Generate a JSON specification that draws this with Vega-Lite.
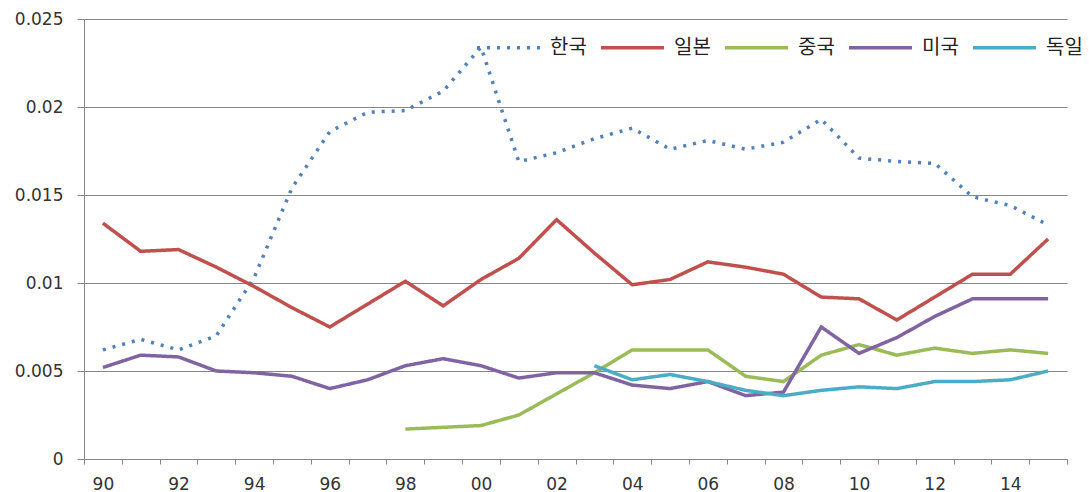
{
  "$schema": "https://vega.github.io/schema/vega-lite/v6.json",
  "width": 983,
  "height": 440,
  "autosize": {"type": "none"},
  "padding": {"left": 84, "top": 19, "right": 22, "bottom": 33},
  "background": "white",
  "config": {"view": {"stroke": null}, "font": "DejaVu Sans"},
  "data": {
    "values": [
      {"year": 1990, "country": "한국", "value": 0.0062},
      {"year": 1991, "country": "한국", "value": 0.0068},
      {"year": 1992, "country": "한국", "value": 0.0062},
      {"year": 1993, "country": "한국", "value": 0.0070},
      {"year": 1994, "country": "한국", "value": 0.0103},
      {"year": 1995, "country": "한국", "value": 0.0154},
      {"year": 1996, "country": "한국", "value": 0.0186},
      {"year": 1997, "country": "한국", "value": 0.0197},
      {"year": 1998, "country": "한국", "value": 0.0198},
      {"year": 1999, "country": "한국", "value": 0.0209},
      {"year": 2000, "country": "한국", "value": 0.0234},
      {"year": 2001, "country": "한국", "value": 0.0169},
      {"year": 2002, "country": "한국", "value": 0.0174},
      {"year": 2003, "country": "한국", "value": 0.0182},
      {"year": 2004, "country": "한국", "value": 0.0188},
      {"year": 2005, "country": "한국", "value": 0.0176},
      {"year": 2006, "country": "한국", "value": 0.0181},
      {"year": 2007, "country": "한국", "value": 0.0176},
      {"year": 2008, "country": "한국", "value": 0.0180},
      {"year": 2009, "country": "한국", "value": 0.0193},
      {"year": 2010, "country": "한국", "value": 0.0171},
      {"year": 2011, "country": "한국", "value": 0.0169},
      {"year": 2012, "country": "한국", "value": 0.0168},
      {"year": 2013, "country": "한국", "value": 0.0149},
      {"year": 2014, "country": "한국", "value": 0.0144},
      {"year": 2015, "country": "한국", "value": 0.0133},

      {"year": 1990, "country": "일본", "value": 0.0134},
      {"year": 1991, "country": "일본", "value": 0.0118},
      {"year": 1992, "country": "일본", "value": 0.0119},
      {"year": 1993, "country": "일본", "value": 0.0109},
      {"year": 1994, "country": "일본", "value": 0.0098},
      {"year": 1995, "country": "일본", "value": 0.0086},
      {"year": 1996, "country": "일본", "value": 0.0075},
      {"year": 1997, "country": "일본", "value": 0.0088},
      {"year": 1998, "country": "일본", "value": 0.0101},
      {"year": 1999, "country": "일본", "value": 0.0087},
      {"year": 2000, "country": "일본", "value": 0.0102},
      {"year": 2001, "country": "일본", "value": 0.0114},
      {"year": 2002, "country": "일본", "value": 0.0136},
      {"year": 2003, "country": "일본", "value": 0.0117},
      {"year": 2004, "country": "일본", "value": 0.0099},
      {"year": 2005, "country": "일본", "value": 0.0102},
      {"year": 2006, "country": "일본", "value": 0.0112},
      {"year": 2007, "country": "일본", "value": 0.0109},
      {"year": 2008, "country": "일본", "value": 0.0105},
      {"year": 2009, "country": "일본", "value": 0.0092},
      {"year": 2010, "country": "일본", "value": 0.0091},
      {"year": 2011, "country": "일본", "value": 0.0079},
      {"year": 2012, "country": "일본", "value": 0.0092},
      {"year": 2013, "country": "일본", "value": 0.0105},
      {"year": 2014, "country": "일본", "value": 0.0105},
      {"year": 2015, "country": "일본", "value": 0.0125},

      {"year": 1998, "country": "중국", "value": 0.0017},
      {"year": 1999, "country": "중국", "value": 0.0018},
      {"year": 2000, "country": "중국", "value": 0.0019},
      {"year": 2001, "country": "중국", "value": 0.0025},
      {"year": 2002, "country": "중국", "value": 0.0037},
      {"year": 2003, "country": "중국", "value": 0.0049},
      {"year": 2004, "country": "중국", "value": 0.0062},
      {"year": 2005, "country": "중국", "value": 0.0062},
      {"year": 2006, "country": "중국", "value": 0.0062},
      {"year": 2007, "country": "중국", "value": 0.0047},
      {"year": 2008, "country": "중국", "value": 0.0044},
      {"year": 2009, "country": "중국", "value": 0.0059},
      {"year": 2010, "country": "중국", "value": 0.0065},
      {"year": 2011, "country": "중국", "value": 0.0059},
      {"year": 2012, "country": "중국", "value": 0.0063},
      {"year": 2013, "country": "중국", "value": 0.0060},
      {"year": 2014, "country": "중국", "value": 0.0062},
      {"year": 2015, "country": "중국", "value": 0.0060},

      {"year": 1990, "country": "미국", "value": 0.0052},
      {"year": 1991, "country": "미국", "value": 0.0059},
      {"year": 1992, "country": "미국", "value": 0.0058},
      {"year": 1993, "country": "미국", "value": 0.0050},
      {"year": 1994, "country": "미국", "value": 0.0049},
      {"year": 1995, "country": "미국", "value": 0.0047},
      {"year": 1996, "country": "미국", "value": 0.0040},
      {"year": 1997, "country": "미국", "value": 0.0045},
      {"year": 1998, "country": "미국", "value": 0.0053},
      {"year": 1999, "country": "미국", "value": 0.0057},
      {"year": 2000, "country": "미국", "value": 0.0053},
      {"year": 2001, "country": "미국", "value": 0.0046},
      {"year": 2002, "country": "미국", "value": 0.0049},
      {"year": 2003, "country": "미국", "value": 0.0049},
      {"year": 2004, "country": "미국", "value": 0.0042},
      {"year": 2005, "country": "미국", "value": 0.0040},
      {"year": 2006, "country": "미국", "value": 0.0044},
      {"year": 2007, "country": "미국", "value": 0.0036},
      {"year": 2008, "country": "미국", "value": 0.0038},
      {"year": 2009, "country": "미국", "value": 0.0075},
      {"year": 2010, "country": "미국", "value": 0.0060},
      {"year": 2011, "country": "미국", "value": 0.0069},
      {"year": 2012, "country": "미국", "value": 0.0081},
      {"year": 2013, "country": "미국", "value": 0.0091},
      {"year": 2014, "country": "미국", "value": 0.0091},
      {"year": 2015, "country": "미국", "value": 0.0091},

      {"year": 2003, "country": "독일", "value": 0.0053},
      {"year": 2004, "country": "독일", "value": 0.0045},
      {"year": 2005, "country": "독일", "value": 0.0048},
      {"year": 2006, "country": "독일", "value": 0.0044},
      {"year": 2007, "country": "독일", "value": 0.0039},
      {"year": 2008, "country": "독일", "value": 0.0036},
      {"year": 2009, "country": "독일", "value": 0.0039},
      {"year": 2010, "country": "독일", "value": 0.0041},
      {"year": 2011, "country": "독일", "value": 0.0040},
      {"year": 2012, "country": "독일", "value": 0.0044},
      {"year": 2013, "country": "독일", "value": 0.0044},
      {"year": 2014, "country": "독일", "value": 0.0045},
      {"year": 2015, "country": "독일", "value": 0.0050}
    ]
  },
  "mark": {"type": "line", "strokeWidth": 3.5},
  "encoding": {
    "x": {
      "field": "year",
      "type": "ordinal",
      "bandPosition": 0.5,
      "scale": {"type": "band", "paddingInner": 0, "paddingOuter": 0},
      "axis": {
        "title": null,
        "tickBand": "extent",
        "labelAngle": 0,
        "labelExpr": "datum.value % 2 == 0 ? slice(toString(datum.value), 2) : ''",
        "labelFont": "DejaVu Sans",
        "labelFontSize": 17,
        "labelColor": "#333333",
        "labelPadding": 12,
        "domainColor": "#868686",
        "tickColor": "#868686",
        "tickSize": 5,
        "grid": false
      }
    },
    "y": {
      "field": "value",
      "type": "quantitative",
      "scale": {"domain": [0, 0.025]},
      "axis": {
        "title": null,
        "values": [0, 0.005, 0.01, 0.015, 0.02, 0.025],
        "format": ".3~f",
        "grid": true,
        "gridColor": "#868686",
        "domainColor": "#868686",
        "tickColor": "#868686",
        "tickSize": 7,
        "labelPadding": 14,
        "labelFont": "DejaVu Sans",
        "labelFontSize": 17,
        "labelColor": "#333333"
      }
    },
    "color": {
      "field": "country",
      "type": "nominal",
      "scale": {
        "domain": ["한국", "일본", "중국", "미국", "독일"],
        "range": ["#4F81BD", "#C0504D", "#9BBB59", "#8064A2", "#4BACC6"]
      },
      "legend": {
        "title": null,
        "orient": "none",
        "legendX": 391,
        "legendY": -5,
        "direction": "horizontal",
        "symbolType": "stroke",
        "symbolSize": 3969,
        "symbolStrokeWidth": 3.5,
        "labelFont": "Noto Sans CJK KR",
        "labelFontSize": 20,
        "labelColor": "#222222",
        "labelOffset": 8,
        "columnPadding": 7
      }
    },
    "strokeDash": {
      "field": "country",
      "type": "nominal",
      "scale": {
        "domain": ["한국", "일본", "중국", "미국", "독일"],
        "range": [[3, 7], [1, 0], [1, 0], [1, 0], [1, 0]]
      },
      "legend": {
        "title": null,
        "orient": "none",
        "legendX": 391,
        "legendY": -5,
        "direction": "horizontal",
        "symbolType": "stroke",
        "symbolSize": 3969,
        "symbolStrokeWidth": 3.5,
        "labelFont": "Noto Sans CJK KR",
        "labelFontSize": 20,
        "labelColor": "#222222",
        "labelOffset": 8,
        "columnPadding": 7
      }
    }
  }
}
